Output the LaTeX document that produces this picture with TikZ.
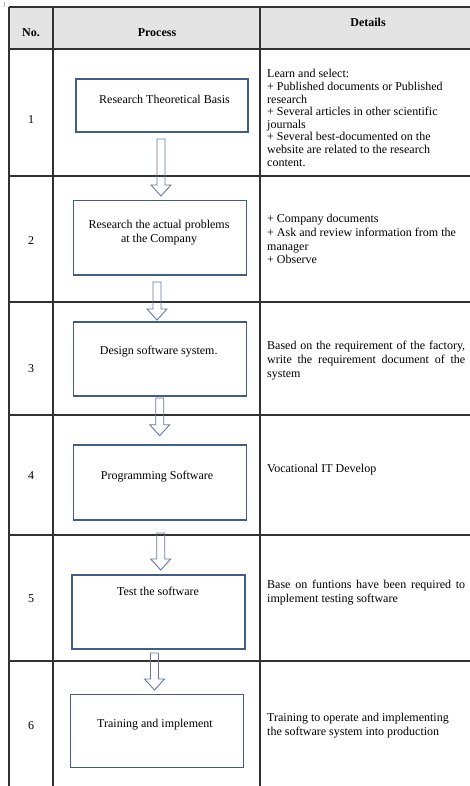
\documentclass[tikz,border=0pt]{standalone}
\usepackage{fontspec}
\setmainfont{Liberation Serif}
\usetikzlibrary{calc}
\definecolor{gridcol}{RGB}{50,50,50}
\definecolor{headfill}{RGB}{228,228,228}
\definecolor{boxblue}{RGB}{68,92,138}
\definecolor{arrowblue}{RGB}{100,120,160}
\newcommand{\blockarr}[2]{%
  \draw[hollowarrow] ($(#1)+(-4,0)$) -- ($(#2)+(-4,-11)$) -- ($(#2)+(-10,-11)$) -- (#2)
    -- ($(#2)+(10,-11)$) -- ($(#2)+(4,-11)$) -- ($(#1)+(4,0)$) -- cycle;}
\newcommand{\jline}[1]{\makebox[\linewidth][s]{#1}}
\begin{document}
\begin{tikzpicture}[x=1pt,y=-1pt,
  gridline/.style={draw=gridcol,line width=1.3pt},
  procbox/.style={draw=boxblue,line width=1.1pt,fill=none,inner sep=0pt},
  hollowarrow/.style={draw=arrowblue,line width=0.9pt,line join=miter},
  celltext/.style={inner sep=0pt,font=\fontsize{12}{13.8}\selectfont},
  headtext/.style={inner sep=0pt,font=\fontsize{12}{13.8}\selectfont\bfseries},
  detail/.style={inner sep=0pt,anchor=base west,font=\fontsize{12}{13.8}\selectfont}]
\useasboundingbox (0,0) rectangle (470,786);
\clip (0,0) rectangle (470,786);
% tiny mark
\draw[gray!60,line width=0.8pt] (4,2) -- (4,7);
% header fill
\fill[headfill] (9,7) rectangle (480,49);
% horizontal rules
\foreach \yy in {7,49,176,302,415,535,661}
  \draw[gridline] (9,\yy) -- (480,\yy);
% vertical rules
\foreach \xx in {9,53,260}
  \draw[gridline] (\xx,7) -- (\xx,790);
% header texts
\node[headtext,anchor=base] (hno) at (31,37) {No.};
\node[headtext,anchor=base] (hproc) at (157,36.5) {Process};
\node[headtext,anchor=base] (hdet) at (368,26.5) {Details};
% numbers
\node[celltext,anchor=base] (n1) at (31,124) {1};
\node[celltext,anchor=base] (n2) at (31,244) {2};
\node[celltext,anchor=base] (n3) at (31,372) {3};
\node[celltext,anchor=base] (n4) at (31,479) {4};
\node[celltext,anchor=base] (n5) at (31,602) {5};
\node[celltext,anchor=base] (n6) at (31,729) {6};
% process boxes
\node[procbox,minimum width=172pt,minimum height=53pt] (b1) at (162,105.5) {};
\node[procbox,minimum width=172.7pt,minimum height=74.3pt] (b2) at (159.7,237.8) {};
\node[procbox,minimum width=172.7pt,minimum height=74pt] (b3) at (159.7,359) {};
\node[procbox,minimum width=172.7pt,minimum height=75pt] (b4) at (159.7,482.5) {};
\node[procbox,minimum width=173pt,minimum height=74pt] (b5) at (158.5,612) {};
\node[procbox,minimum width=173pt,minimum height=73.3pt] (b6) at (156.8,730.7) {};
% box texts
\node[celltext,anchor=base] (t1) at (164.5,103.5) {Research Theoretical Basis};
\node[celltext,align=center,anchor=center] (t2) at (159,232.5) {Research the actual problems\\at the Company};
\node[celltext,anchor=base] (t3) at (158.7,354.5) {Design software system.};
\node[celltext,anchor=base] (t4) at (157,479) {Programming Software};
\node[celltext,anchor=base] (t5) at (158,595.5) {Test the software};
\node[celltext,anchor=base] (t6) at (155,727.5) {Training and implement};
% arrows
\coordinate (a1s) at (161,139);   \coordinate (a1e) at (161,196);
\coordinate (a2s) at (157,282);   \coordinate (a2e) at (157,320);
\coordinate (a3s) at (159.7,398); \coordinate (a3e) at (159.7,435.7);
\coordinate (a4s) at (160.7,533); \coordinate (a4e) at (160.7,570);
\coordinate (a5s) at (154.5,653); \coordinate (a5e) at (154.5,690);
\blockarr{a1s}{a1e}
\blockarr{a2s}{a2e}
\blockarr{a3s}{a3e}
\blockarr{a4s}{a4e}
\blockarr{a5s}{a5e}
% details
\node[detail] (d1) at (267,78) {\parbox[t]{198pt}{\fontsize{12}{12.6}\selectfont\raggedright Learn and select:\\
+ Published documents or Published\\
research\\
+ Several articles in other scientific\\
journals\\
+ Several best-documented on the\\
website are related to the research\\
content.}};
\node[detail] (d2) at (267,222.5) {\parbox[t]{198pt}{\raggedright + Company documents\\
+ Ask and review information from the\\
manager\\
+ Observe}};
\node[detail] (d3) at (267,349.5) {\parbox[t]{198pt}{\jline{Based on the requirement of the factory,}\\
\jline{write the requirement document of the}\\
system}};
\node[detail] (d4) at (267,472.5) {\parbox[t]{198pt}{Vocational IT Develop}};
\node[detail] (d5) at (267,588.5) {\parbox[t]{198pt}{\jline{Base on funtions have been required to}\\
implement testing software}};
\node[detail] (d6) at (267,721.5) {\parbox[t]{198pt}{\raggedright Training to operate and implementing\\
the software system into production}};
\end{tikzpicture}
\end{document}
